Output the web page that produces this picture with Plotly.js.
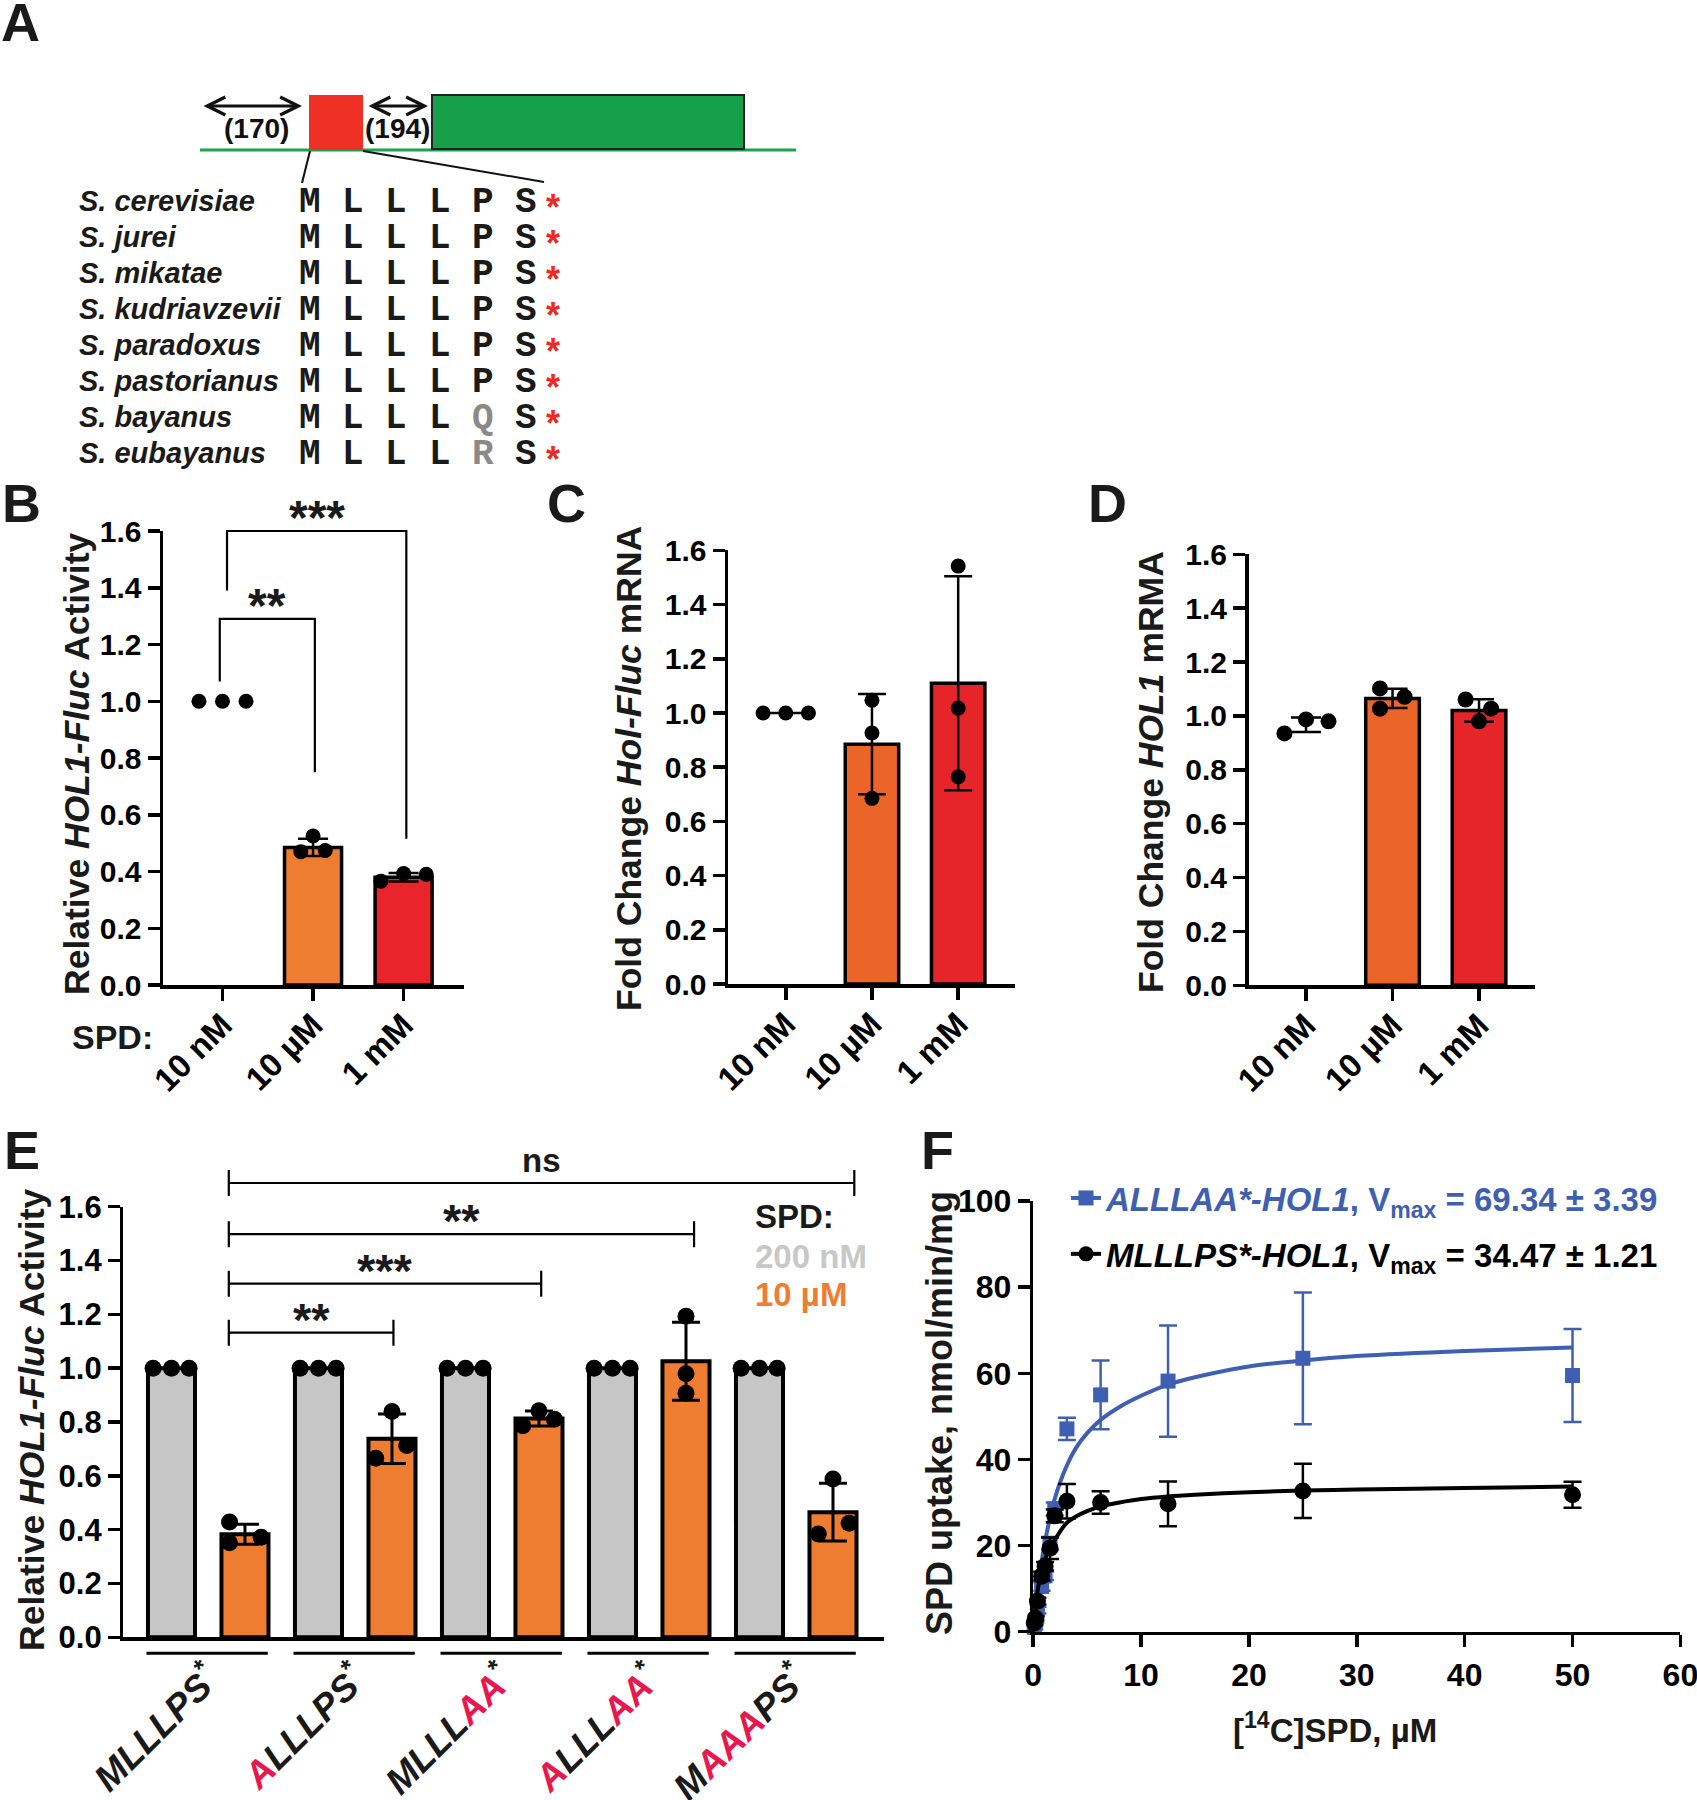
<!DOCTYPE html>
<html><head><meta charset="utf-8">
<script src="https://cdn.plot.ly/plotly-3.0.1.min.js"></script>
<style>html,body{margin:0;padding:0;background:#fff}</style>
</head><body>
<div id="chart" style="width:1697px;height:1800px"></div>
<script>
// ================= DATA =================
// Panel A
const speciesNames = ['S. cerevisiae','S. jurei','S. mikatae','S. kudriavzevii','S. paradoxus','S. pastorianus','S. bayanus','S. eubayanus'];
const uorfSeqs = ['MLLLPS','MLLLPS','MLLLPS','MLLLPS','MLLLPS','MLLLPS','MLLLQS','MLLLRS'];
const consensusSeq = 'MLLLPS';
const spacerLabels = ['(170)','(194)'];

// Panels B-D (SPD concentrations)
const spdCats = ['10 nM','10 µM','1 mM'];
const barB = [null, 0.485, 0.38];
const sdB = [0, 0.03, 0.015];
const repsB = [[1.0,1.0,1.0],[0.47,0.525,0.474],[0.366,0.393,0.39]];

const barC = [null, 0.885, 1.11];
const sdC = [0, 0.185, 0.395];
const repsC = [[1.0,1.0,1.0],[1.047,0.926,0.685],[1.542,1.018,0.765]];

const meanD = [0.967, 1.065, 1.02];
const sdD = [0.027, 0.036, 0.042];
const repsD = [[0.935,0.987,0.98],[1.102,1.071,1.027],[1.061,1.027,0.98]];

// Panel E
const constructSeqs = ['MLLLPS','ALLLPS','MLLLAA','ALLLAA','MAAAPS'];
const wildType = 'MLLLPS';
const lowSpd = [1,1,1,1,1];
const highSpd = [0.383,0.738,0.813,1.026,0.465];
const sdHigh = [0.037,0.092,0.028,0.145,0.107];
const repsLow = [[1,1,1],[1,1,1],[1,1,1],[1,1,1],[1,1,1]];
const repsHigh = [[0.428,0.351,0.372],[0.839,0.665,0.713],[0.842,0.786,0.81],[1.193,0.979,0.907],[0.588,0.384,0.424]];
const sigE_x0 = [0.78,0.78,0.78,0.78];
const sigE_x1 = [3.02,5.03,7.11,9.29];
const sigE_y  = [1.132,1.314,1.498,1.688];
const sigE_t  = ['**','***','**','ns'];

// Panel B significance
const sigB_x0 = [-0.03, 0.05];
const sigB_x1 = [1.02, 2.03];
const sigB_top = [1.29, 1.60];
const sigB_leg0 = [1.07, 1.39];
const sigB_leg1 = [0.75, 0.515];
const sigB_t = ['**','***'];

// Panel F
const concF = [0.1, 0.2, 0.39, 0.78, 1.1, 1.56, 2.0, 3.125, 6.25, 12.5, 25, 50];
const mlllps = [2.0, 3.1, 7.1, 12.9, 15.2, 19.4, 26.9, 30.3, 30.0, 29.7, 32.7, 31.8];
const mlllpsSd = [0.5, 0.5, 0.8, 1.0, 1.0, 2.5, 1.5, 4.0, 2.6, 5.2, 6.3, 3.0];
const alllaa = [1.0, 2.5, 5.0, 10.5, 13.0, 20.5, 28.5, 47.1, 55.0, 58.2, 63.5, 59.5];
const alllaaSd = [0.5, 0.5, 0.8, 1.0, 1.0, 1.5, 1.5, 2.6, 8.0, 12.9, 15.3, 10.8];
const fitX = [0, 0.25, 0.5, 1, 1.5, 2, 3, 4, 5, 6.25, 8, 10, 12.5, 15, 20, 25, 30, 40, 50];
const fitAlllaa = [0, 6.3, 11.5, 19.6, 25.8, 30.9, 37.9, 42.8, 46.1, 49.2, 52.2, 54.8, 57.4, 59.1, 61.6, 63.0, 64.0, 65.2, 66.0];
const fitMlllps = [0, 6.5, 10.8, 16.1, 19.2, 21.3, 25.0, 26.8, 28.0, 29.1, 30.0, 30.8, 31.4, 31.8, 32.4, 32.8, 33.0, 33.4, 33.7];

// ================= STYLE =================
const FONT = 'Liberation Sans, Arial, Helvetica, sans-serif';
const MONO = 'Liberation Mono, Courier New, monospace';
const W = 1697, H = 1800;
const px = x => x / W;
const py = y => 1 - y / H;
const ORANGE = '#ee7d31', ORANGE2 = '#eb6529', RED = '#e9242a', RED2 = '#e6252b', GREY = '#c6c6c6';
const PINK = '#e8184f', BLUE = '#3f5fb2';
const jitB = [[-0.26,0,0.26],[-0.135,0,0.135],[-0.25,0,0.25]];
const jitC = [[-0.263,0,0.263],[0,0,0],[0,0,0]];
const jitD = [[-0.25,0,0.26],[-0.145,0.14,-0.145],[-0.155,0.14,0]];
const jitLow = [-0.25,0,0.24];
const jitHigh = [[-0.21,-0.21,0.22],[0,-0.22,0.2],[0,-0.22,0.21],[0,0,0],[0,-0.2,0.22]];

function ax(extra) {
  return Object.assign({
    showline: true, linecolor: '#000', linewidth: 3.5,
    ticks: 'outside', ticklen: 12, tickwidth: 3.5, tickcolor: '#000',
    showgrid: false, zeroline: false, fixedrange: true, ticklabeloverflow: 'allow',
    tickfont: {family: FONT, size: 30, color: '#000', weight: 'bold'}
  }, extra);
}
const yTicks = [0,0.2,0.4,0.6,0.8,1.0,1.2,1.4,1.6];

const traces = [];
function dotTrace(reps, jit, xa, ya, size) {
  const xs = [], ys = [];
  reps.forEach((r, i) => r.forEach((v, j) => { xs.push(i + jit[i][j]); ys.push(v); }));
  return {type:'scatter', mode:'markers', x:xs, y:ys, xaxis:xa, yaxis:ya,
    marker:{color:'#000', size:size}, cliponaxis:false, showlegend:false, hoverinfo:'skip'};
}

// ---- Panel B ----
traces.push({type:'bar', x:[0,1,2], y:barB, width:0.63, xaxis:'x', yaxis:'y',
  marker:{color:['rgba(0,0,0,0)', ORANGE, RED], line:{color:'#000', width:3.5}},
  error_y:{type:'data', array:sdB, visible:true, color:'#000', thickness:2.5, width:15},
  showlegend:false, hoverinfo:'skip'});
traces.push(dotTrace(repsB, jitB, 'x', 'y', 15));

// ---- Panel C ----
traces.push({type:'bar', x:[0,1,2], y:barC, width:0.62, xaxis:'x2', yaxis:'y2',
  marker:{color:['rgba(0,0,0,0)', ORANGE2, RED2], line:{color:'#000', width:3.5}},
  error_y:{type:'data', array:sdC, visible:true, color:'#000', thickness:2.5, width:14},
  showlegend:false, hoverinfo:'skip'});
traces.push({type:'scatter', mode:'lines', x:repsC[0].map((v,j)=>0+jitC[0][j]), y:repsC[0],
  xaxis:'x2', yaxis:'y2', line:{color:'#000', width:2.5}, showlegend:false, hoverinfo:'skip'});
traces.push(dotTrace(repsC, jitC, 'x2', 'y2', 15));

// ---- Panel D ----
traces.push({type:'bar', x:[1,2], y:meanD.slice(1), width:0.62, xaxis:'x3', yaxis:'y3',
  marker:{color:[ORANGE2, RED2], line:{color:'#000', width:3.5}},
  error_y:{type:'data', array:sdD.slice(1), visible:true, color:'#000', thickness:2.5, width:15},
  showlegend:false, hoverinfo:'skip'});
traces.push({type:'scatter', mode:'markers', x:[0], y:[meanD[0]], xaxis:'x3', yaxis:'y3',
  marker:{size:1, color:'rgba(0,0,0,0)'},
  error_y:{type:'data', array:[sdD[0]], visible:true, color:'#000', thickness:2.5, width:15},
  showlegend:false, hoverinfo:'skip'});
traces.push(dotTrace(repsD, jitD, 'x3', 'y3', 16));

// ---- Panel E ----
traces.push({type:'bar', x:lowSpd.map((v,i)=>2*i), y:lowSpd, width:0.64, xaxis:'x5', yaxis:'y5',
  marker:{color:GREY, line:{color:'#000', width:4}}, showlegend:false, hoverinfo:'skip'});
traces.push({type:'bar', x:highSpd.map((v,i)=>2*i+1), y:highSpd, width:0.64, xaxis:'x5', yaxis:'y5',
  marker:{color:ORANGE, line:{color:'#000', width:4}},
  error_y:{type:'data', array:sdHigh, visible:true, color:'#000', thickness:3, width:14},
  showlegend:false, hoverinfo:'skip'});
(function(){
  const xs=[], ys=[];
  repsLow.forEach((r,i)=>r.forEach((v,j)=>{xs.push(2*i+jitLow[j]); ys.push(v);}));
  repsHigh.forEach((r,i)=>r.forEach((v,j)=>{xs.push(2*i+1+jitHigh[i][j]); ys.push(v);}));
  traces.push({type:'scatter', mode:'markers', x:xs, y:ys, xaxis:'x5', yaxis:'y5',
    marker:{color:'#000', size:17}, cliponaxis:false, showlegend:false, hoverinfo:'skip'});
})();

// ---- Panel F ----
traces.push({type:'scatter', mode:'lines', x:fitX, y:fitAlllaa, xaxis:'x6', yaxis:'y6',
  line:{color:BLUE, width:4, shape:'spline', smoothing:0.8}, showlegend:false, hoverinfo:'skip'});
traces.push({type:'scatter', mode:'markers', x:concF, y:alllaa, xaxis:'x6', yaxis:'y6',
  marker:{color:BLUE, size:15, symbol:'square'}, cliponaxis:false,
  error_y:{type:'data', array:alllaaSd, visible:true, color:BLUE, thickness:2.5, width:9},
  showlegend:false, hoverinfo:'skip'});
traces.push({type:'scatter', mode:'lines', x:fitX, y:fitMlllps, xaxis:'x6', yaxis:'y6',
  line:{color:'#000', width:4, shape:'spline', smoothing:0.8}, showlegend:false, hoverinfo:'skip'});
traces.push({type:'scatter', mode:'markers', x:concF, y:mlllps, xaxis:'x6', yaxis:'y6',
  marker:{color:'#000', size:17, symbol:'circle'}, cliponaxis:false,
  error_y:{type:'data', array:mlllpsSd, visible:true, color:'#000', thickness:2.5, width:9},
  showlegend:false, hoverinfo:'skip'});
// legend entries
traces.push({type:'scatter', mode:'lines+markers', x:[null], y:[null], xaxis:'x6', yaxis:'y6',
  name:'<span style="color:'+BLUE+'"><i>ALLLAA*-HOL1</i>, V<sub>max</sub> = 69.34 ± 3.39</span>',
  line:{color:BLUE, width:4}, marker:{color:BLUE, size:15, symbol:'square'}, legendgroup:'a', showlegend:true});
traces.push({type:'scatter', mode:'lines+markers', x:[null], y:[null], xaxis:'x6', yaxis:'y6',
  name:'<i>MLLLPS*-HOL1</i>, V<sub>max</sub> = 34.47 ± 1.21',
  line:{color:'#000', width:4}, marker:{color:'#000', size:15, symbol:'circle'}, legendgroup:'b', showlegend:true});

// ================= SHAPES / ANNOTATIONS =================
const shapes = [], annotations = [];
const rngB = [0,1.6], rngE = [0,1.6];
const dom = (v, r) => (v - r[0]) / (r[1] - r[0]);

// Panel B brackets
sigB_t.forEach((t,k)=>{
  const x0=sigB_x0[k], x1=sigB_x1[k];
  shapes.push({type:'path', xref:'x', yref:'y domain',
    path:`M${x0},${dom(sigB_leg0[k],rngB)} L${x0},${dom(sigB_top[k],rngB)} L${x1},${dom(sigB_top[k],rngB)} L${x1},${dom(sigB_leg1[k],rngB)}`,
    line:{color:'#000', width:2.2}});
  annotations.push({xref:'x', yref:'y domain', x:(x0+x1)/2, y:dom(sigB_top[k],rngB), text:'<b>'+t+'</b>',
    showarrow:false, yanchor:'bottom', yshift:-15, font:{family:FONT, size:48, color:'#1a1a1a'}});
});
// Panel E brackets
const eDomPx = 430.6, tick = 13/eDomPx;
sigE_t.forEach((t,k)=>{
  const x0=sigE_x0[k], x1=sigE_x1[k], y=dom(sigE_y[k],rngE);
  shapes.push({type:'path', xref:'x5', yref:'y5 domain',
    path:`M${x0},${y-tick} L${x0},${y+tick} M${x0},${y} L${x1},${y} M${x1},${y-tick} L${x1},${y+tick}`,
    line:{color:'#000', width:2.2}});
  annotations.push({xref:'x5', yref:'y5 domain', x:(x0+x1)/2, y:y, text:'<b>'+t+'</b>',
    showarrow:false, yanchor:'bottom', yshift:(t==='ns'?2:-15), font:{family:FONT, size:(t==='ns'?33:47), color:'#1a1a1a'}});
});
// Panel E group underlines
constructSeqs.forEach((s,i)=>{
  shapes.push({type:'line', xref:'x5', yref:'y5 domain', x0:2*i-0.34, x1:2*i+1.31, y0:-16/eDomPx, y1:-16/eDomPx,
    line:{color:'#000', width:3}});
});
const eTickText = constructSeqs.map(s=>{
  let out='';
  for (let c=0;c<s.length;c++){
    out += (s[c]!==wildType[c]) ? '<span style="color:'+PINK+'">'+s[c]+'</span>' : s[c];
  }
  return '<b><i>'+out+'<sup>*</sup></i></b>';
});

// ---- Panel A (schematic in its own hidden axis, pixel-like units) ----
const A = {xref:'x7', yref:'y7'};
shapes.push(Object.assign({type:'line', x0:200, x1:796, y0:150, y1:150, line:{color:'#1ea24f', width:3}}, A));
shapes.push(Object.assign({type:'rect', x0:309, x1:363, y0:95, y1:150, fillcolor:'#ee3124', line:{width:0}}, A));
shapes.push(Object.assign({type:'rect', x0:432, x1:744, y0:95, y1:149, fillcolor:'#17a04a', line:{color:'#222', width:2}}, A));
shapes.push(Object.assign({type:'line', x0:310, x1:302, y0:151, y1:183, line:{color:'#111', width:2}}, A));
shapes.push(Object.assign({type:'line', x0:363, x1:544, y0:151, y1:182, line:{color:'#111', width:2}}, A));
[[202,302],[367,428]].forEach((p,k)=>{
  annotations.push(Object.assign({x:p[1], y:106, ax:p[0], ay:106, axref:'x7', ayref:'y7', text:'',
    showarrow:true, arrowside:'end+start', arrowhead:5, startarrowhead:5, arrowsize:1.1, startarrowsize:1.1,
    arrowwidth:3.2, arrowcolor:'#111', standoff:0, startstandoff:0}, A));
  annotations.push(Object.assign({x:(p[0]+p[1])/2 + (k===0?4:0), y:128, text:'<b>'+spacerLabels[k]+'</b>', showarrow:false,
    font:{family:FONT, size:28, color:'#111'}}, A));
});
speciesNames.forEach((n,i)=>{
  const yRow = 200 + 36*i;
  annotations.push(Object.assign({x:77, y:yRow+1, text:'<b><i>'+n+'</i></b>', showarrow:false, xanchor:'left',
    font:{family:FONT, size:29, color:'#1a1a1a'}}, A));
  const seq = uorfSeqs[i];
  for (let j=0;j<seq.length;j++){
    annotations.push(Object.assign({x:310+43.2*j, y:yRow+2, text:'<b>'+seq[j]+'</b>', showarrow:false,
      font:{family:MONO, size:36, color:(seq[j]===consensusSeq[j]?'#1a1a1a':'#8a8a8a')}}, A));
  }
  annotations.push(Object.assign({x:553, y:yRow+7, text:'<b>*</b>', showarrow:false,
    font:{family:FONT, size:36, color:'#ee2a24'}}, A));
});

// Panel letters
[['A',20,22],['B',21,503],['C',566,503],['D',1107,503],['E',22,1150],['F',938,1150]].forEach(p=>{
  annotations.push({xref:'paper', yref:'paper', x:px(p[1]), y:py(p[2]), text:'<b>'+p[0]+'</b>', showarrow:false,
    xanchor:'center', yanchor:'middle', font:{family:FONT, size:54, color:'#1a1a1a'}});
});
// Axis titles
function vtitle(txt, x, y, size){
  annotations.push({xref:'paper', yref:'paper', x:px(x), y:py(y), text:'<b>'+txt+'</b>', textangle:-90,
    showarrow:false, xanchor:'center', yanchor:'middle', font:{family:FONT, size:size, color:'#1a1a1a'}});
}
vtitle('Relative <i>HOL1-Fluc</i> Activity', 77, 764, 35.5);
vtitle('Fold Change <i>Hol-Fluc</i> mRNA', 629, 769, 35.5);
vtitle('Fold Change <i>HOL1</i> mRMA', 1151, 772, 35.5);
vtitle('Relative <i>HOL1-Fluc</i> Activity', 32, 1420, 35.5);
vtitle('SPD uptake, nmol/min/mg', 939, 1413, 36);
annotations.push({xref:'paper', yref:'paper', x:px(1335), y:py(1728), text:'<b>[<sup>14</sup>C]SPD, µM</b>',
  showarrow:false, xanchor:'center', yanchor:'middle', font:{family:FONT, size:33, color:'#1a1a1a'}});
annotations.push({xref:'paper', yref:'paper', x:px(112), y:py(1037), text:'<b>SPD:</b>',
  showarrow:false, xanchor:'center', yanchor:'middle', font:{family:FONT, size:34, color:'#1a1a1a'}});
// Panel E legend
[['SPD:','#1a1a1a',1216],['200 nM','#c8c8c8',1256],['10 µM',ORANGE,1294]].forEach(p=>{
  annotations.push({xref:'paper', yref:'paper', x:px(753), y:py(p[2]), text:'<b>'+p[0]+'</b>', showarrow:false,
    xanchor:'left', yanchor:'middle', font:{family:FONT, size:33, color:p[1]}});
});

// ================= LAYOUT =================
const catAxis = (dom0, dom1, rng, anchor) => ax({domain:[px(dom0), px(dom1)], range:rng, anchor:anchor,
  tickvals:[0,1,2], ticktext:spdCats, tickangle:-45, ticklabelstandoff:-8,
  tickfont:{family:FONT, size:33, color:'#000', weight:'bold'}});
const valAxis = (top, bottom, anchor) => ax({domain:[py(bottom), py(top)], range:[0,1.6], anchor:anchor,
  tickvals:yTicks, tickformat:'.1f'});

const layout = {
  width: W, height: H, margin:{l:0,r:0,t:0,b:0}, paper_bgcolor:'#fff', plot_bgcolor:'rgba(0,0,0,0)',
  barmode:'overlay', showlegend:true,
  font:{family:FONT, color:'#000'},
  xaxis: catAxis(163, 464, [-0.657, 2.667], 'y'),
  yaxis: valAxis(531, 985, 'x'),
  xaxis2: catAxis(728, 1015, [-0.670, 2.659], 'y2'),
  yaxis2: valAxis(550.4, 984, 'x2'),
  xaxis3: catAxis(1248.5, 1535, [-0.665, 2.647], 'y3'),
  yaxis3: valAxis(554.3, 985.3, 'x3'),
  xaxis5: ax({domain:[px(123.4), px(884)], range:[-0.654, 9.694], anchor:'y5', ticks:'',
    tickvals:[0.5,2.5,4.5,6.5,8.5], ticktext:eTickText, tickangle:-45, ticklabelstandoff:2,
    tickfont:{family:FONT, size:37, color:'#1a1a1a'}}),
  yaxis5: ax({domain:[py(1637.3), py(1206.7)], range:rngE, anchor:'x5', tickvals:yTicks, tickformat:'.1f',
    tickfont:{family:FONT, size:31, color:'#000', weight:'bold'}}),
  xaxis6: ax({domain:[px(1033.2), px(1680.4)], range:[0,60], anchor:'y6', tickvals:[0,10,20,30,40,50,60],
    tickfont:{family:FONT, size:32, color:'#000', weight:'bold'}}),
  yaxis6: ax({domain:[py(1631.7), py(1201.1)], range:[0,100], anchor:'x6', tickvals:[0,20,40,60,80,100],
    tickfont:{family:FONT, size:32, color:'#000', weight:'bold'}}),
  xaxis7: {domain:[0, px(850)], range:[0,850], anchor:'y7', visible:false, fixedrange:true},
  yaxis7: {domain:[py(480), 1], range:[480,0], anchor:'x7', visible:false, fixedrange:true},
  legend:{x:px(1066), y:py(1170), xanchor:'left', yanchor:'top', bgcolor:'rgba(0,0,0,0)',
    font:{family:FONT, size:33, color:'#000', weight:'bold'}, tracegroupgap:10, traceorder:'grouped', itemwidth:30},
  shapes: shapes, annotations: annotations
};

Plotly.newPlot('chart', traces, layout, {staticPlot:true, displayModeBar:false});
</script>
</body></html>
